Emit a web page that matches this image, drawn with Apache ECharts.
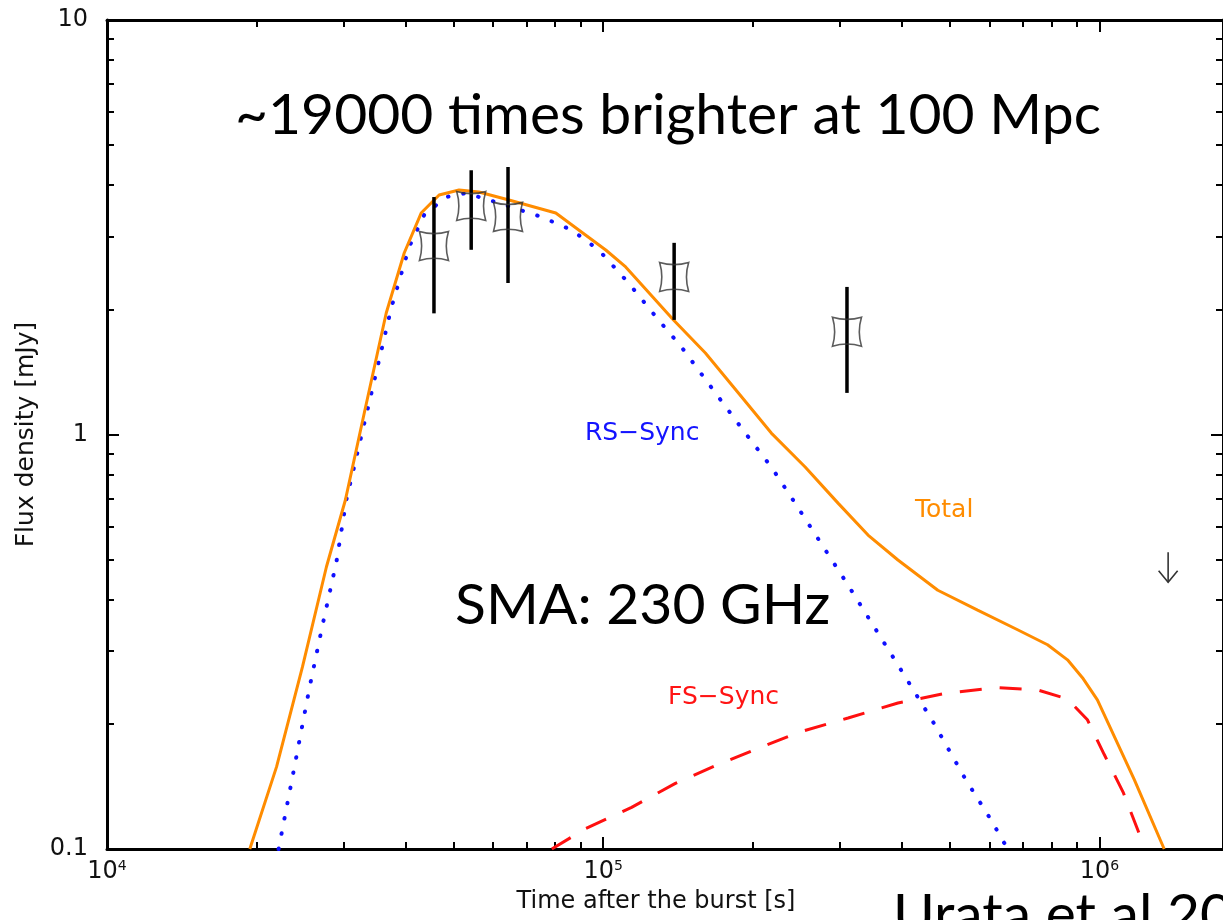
<!DOCTYPE html>
<html><head><meta charset="utf-8">
<script src="https://cdn.jsdelivr.net/npm/echarts@6/dist/echarts.min.js"></script>
<style>html,body{margin:0;padding:0;background:#fff}#chart{width:1223px;height:920px}</style>
</head><body><div id="chart"></div>
<script>
// ---- data ----
const totalTime = [1.94e4, 2.197e4, 2.477e4, 2.768e4, 3.023e4, 3.300e4, 3.654e4, 3.972e4, 4.297e4, 4.670e4, 5.123e4, 5.618e4, 6.458e4, 8.026e4, 1.012e5, 1.110e5, 1.386e5, 1.607e5, 1.873e5, 2.182e5, 2.553e5, 2.974e5, 3.418e5, 3.927e5, 4.725e5, 5.684e5, 6.842e5, 7.863e5, 8.626e5, 9.245e5, 9.909e5, 1.176e6, 1.351e6];
const totalFlux = [0.1, 0.158, 0.275, 0.479, 0.695, 1.127, 1.964, 2.741, 3.422, 3.783, 3.890, 3.846, 3.679, 3.422, 2.787, 2.536, 1.889, 1.573, 1.259, 1.008, 0.835, 0.683, 0.572, 0.498, 0.421, 0.377, 0.338, 0.311, 0.286, 0.259, 0.229, 0.147, 0.1];

const rsTime = [2.217e4, 2.387e4, 2.559e4, 2.719e4, 2.900e4, 3.036e4, 3.378e4, 3.740e4, 4.064e4, 4.357e4, 4.825e4, 5.291e4, 6.166e4, 7.522e4, 8.645e4, 9.795e4, 1.125e5, 1.293e5, 1.438e5, 1.707e5, 1.934e5, 2.182e5, 2.437e5, 3.116e5, 3.927e5, 4.617e5, 5.379e5, 6.037e5, 6.535e5];
const rsFlux = [0.1, 0.158, 0.245, 0.347, 0.493, 0.695, 1.198, 2.020, 2.835, 3.385, 3.741, 3.824, 3.618, 3.347, 3.113, 2.787, 2.320, 1.889, 1.626, 1.232, 1.008, 0.835, 0.683, 0.433, 0.278, 0.203, 0.147, 0.118, 0.1];

const fsTime = [7.879e4, 9.22e4, 1.141e5, 1.398e5, 1.707e5, 2.054e5, 2.472e5, 3.116e5, 3.927e5, 4.948e5, 6.237e5, 7.504e5, 8.626e5, 9.461e5, 1.023e6, 1.117e6, 1.237e6];
const fsFlux = [0.1, 0.112, 0.126, 0.144, 0.160, 0.175, 0.191, 0.207, 0.225, 0.238, 0.245, 0.242, 0.230, 0.205, 0.169, 0.137, 0.1];

const obsTime = [4.56e4, 5.42e4, 6.43e4, 1.39e5, 3.10e5];
const obsFlux = [2.85, 3.56, 3.35, 2.40, 1.77];
const obsLow  = [1.96, 2.79, 2.32, 1.89, 1.26];
const obsHigh = [3.74, 4.34, 4.42, 2.90, 2.27];

const limitTime = [1.376e6];
const limitFlux = [0.52];
const limitArrowEnd = [0.44];

const xMin = 1e4, xMax = 1.775e6, yMin = 0.1, yMax = 10;
const xMajorTicks = [1e4, 1e5, 1e6];
const xMinorTicks = [2e4,3e4,4e4,5e4,6e4,7e4,8e4,9e4,2e5,3e5,4e5,5e5,6e5,7e5,8e5,9e5];
const xTickExponents = ['4', '5', '6'];
const yMajorTicks = [0.1, 1, 10];
const yMinorTicks = [0.2,0.3,0.4,0.5,0.6,0.7,0.8,0.9,2,3,4,5,6,7,8,9];
const yTickLabels = ['0.1', '1', '10'];

const zip = (a, b) => a.map((v, i) => [v, b[i]]);
const FONT = '"DejaVu Sans", sans-serif';
const AX = '#000';

function xAx(gridIndex, position, major, extra) {
  return Object.assign({
    type: 'log', logBase: 10, gridIndex, position, min: xMin, max: xMax,
    axisLine: { show: major, onZero: false, lineStyle: { color: AX, width: 3 } },
    axisTick: { show: true, inside: true, length: major ? 12 : 7, lineStyle: { color: AX, width: 2 },
                customValues: major ? xMajorTicks : xMinorTicks },
    axisLabel: { show: false },
    splitLine: { show: false }, minorTick: { show: false }
  }, extra || {});
}
function yAx(gridIndex, position, major, extra) {
  return Object.assign({
    type: 'log', logBase: 10, gridIndex, position, min: yMin, max: yMax,
    axisLine: { show: major, onZero: false, lineStyle: { color: AX, width: 3 } },
    axisTick: { show: true, inside: true, length: major ? 12 : 7, lineStyle: { color: AX, width: 2 },
                customValues: major ? yMajorTicks : yMinorTicks },
    axisLabel: { show: false },
    splitLine: { show: false }, minorTick: { show: false }
  }, extra || {});
}

const chart = echarts.init(document.getElementById('chart'), null, { renderer: 'canvas' });
const gridBox = { left: 107, top: 20, width: 1119, height: 829 };

const option = {
  animation: false,
  backgroundColor: '#fff',
  grid: [Object.assign({}, gridBox), Object.assign({}, gridBox)],
  xAxis: [
    xAx(0, 'bottom', true, {
      name: 'Time after the burst [s]', nameLocation: 'middle', nameGap: 41,
      nameTextStyle: { fontFamily: FONT, fontSize: 24, color: '#111', padding: [0, 18, 0, 0] },
      axisLabel: {
        show: true, margin: 10, customValues: xMajorTicks,
        formatter: (v) => {
          const i = xMajorTicks.findIndex(t => Math.abs(Math.log10(t) - Math.log10(v)) < 1e-6);
          return '{b|10}{s|' + (i >= 0 ? xTickExponents[i] : '') + '}';
        },
        rich: {
          b: { fontFamily: FONT, fontSize: 24, color: '#111', lineHeight: 26 },
          s: { fontFamily: FONT, fontSize: 14, color: '#111', verticalAlign: 'top', lineHeight: 14 }
        }
      }
    }),
    xAx(0, 'top', true),
    xAx(1, 'bottom', false),
    xAx(1, 'top', false)
  ],
  yAxis: [
    yAx(0, 'left', true, {
      name: 'Flux density [mJy]', nameLocation: 'middle', nameGap: 60,
      nameTextStyle: { fontFamily: FONT, fontSize: 25, color: '#111' },
      axisLabel: {
        show: true, margin: 19, customValues: yMajorTicks,
        fontFamily: FONT, fontSize: 24, color: '#111',
        formatter: (v) => {
          const i = yMajorTicks.findIndex(t => Math.abs(Math.log10(t) - Math.log10(v)) < 1e-6);
          return i >= 0 ? yTickLabels[i] : '';
        }
      }
    }),
    yAx(0, 'right', true),
    yAx(1, 'left', false),
    yAx(1, 'right', false)
  ],
  series: [
    {
      type: 'line', name: 'Total', xAxisIndex: 0, yAxisIndex: 0,
      data: zip(totalTime, totalFlux), showSymbol: false, symbol: 'none', silent: true, z: 4,
      lineStyle: { color: '#ff8c00', width: 3 }
    },
    {
      type: 'line', name: 'RS-Sync', xAxisIndex: 0, yAxisIndex: 0,
      data: zip(rsTime, rsFlux), showSymbol: false, symbol: 'none', silent: true, z: 3,
      lineStyle: { color: '#1010ff', width: 4, type: [0.5, 15], cap: 'round' }
    },
    {
      type: 'line', name: 'FS-Sync', xAxisIndex: 0, yAxisIndex: 0,
      data: zip(fsTime, fsFlux), showSymbol: false, symbol: 'none', silent: true, z: 3,
      lineStyle: { color: '#ff1010', width: 3, type: [22, 18] }
    },
    {
      type: 'custom', name: 'error', xAxisIndex: 0, yAxisIndex: 0, silent: true, z: 5,
      data: obsTime.map((t, i) => [t, obsLow[i], obsHigh[i]]),
      encode: { x: 0, y: [1, 2] },
      renderItem: (params, api) => {
        const p1 = api.coord([api.value(0), api.value(1)]);
        const p2 = api.coord([api.value(0), api.value(2)]);
        return { type: 'line', shape: { x1: p1[0], y1: p1[1], x2: p2[0], y2: p2[1] },
                 style: { stroke: '#000', lineWidth: 3.5 } };
      }
    },
    {
      type: 'scatter', name: 'SMA', xAxisIndex: 0, yAxisIndex: 0, silent: true, z: 6,
      data: zip(obsTime, obsFlux),
      symbol: 'path://M0,0 Q10,3 20,0 Q17,10 20,20 Q10,17 0,20 Q3,10 0,0 Z',
      symbolSize: 29,
      itemStyle: { color: 'rgba(0,0,0,0)', borderColor: '#333', borderWidth: 1.6 }
    },
    {
      type: 'custom', name: 'limit', xAxisIndex: 0, yAxisIndex: 0, silent: true, z: 5,
      data: limitTime.map((t, i) => [t, limitFlux[i], limitArrowEnd[i]]),
      encode: { x: 0, y: [1, 2] },
      renderItem: (params, api) => {
        const a = api.coord([api.value(0), api.value(1)]);
        const b = api.coord([api.value(0), api.value(2)]);
        const st = { stroke: '#333', lineWidth: 1.6, fill: null };
        return { type: 'group', children: [
          { type: 'line', shape: { x1: a[0], y1: a[1], x2: b[0], y2: b[1] }, style: st },
          { type: 'polyline', shape: { points: [[b[0] - 9.5, b[1] - 11.5], [b[0], b[1]], [b[0] + 9.5, b[1] - 11.5]] }, style: st }
        ] };
      }
    }
  ],
  graphic: [
    { type: 'text', x: 585, y: 433, silent: true,
      style: { text: 'RS\u2212Sync', font: '25px ' + FONT, fill: '#1414ff', align: 'left', verticalAlign: 'middle', textAlign: 'left', textVerticalAlign: 'middle' } },
    { type: 'text', x: 915, y: 510, silent: true,
      style: { text: 'Total', font: '25px ' + FONT, fill: '#ff8c00', align: 'left', verticalAlign: 'middle', textAlign: 'left', textVerticalAlign: 'middle' } },
    { type: 'text', x: 668, y: 697, silent: true,
      style: { text: 'FS\u2212Sync', font: '25px ' + FONT, fill: '#ff1414', align: 'left', verticalAlign: 'middle', textAlign: 'left', textVerticalAlign: 'middle' } },
    { type: 'text', x: 235, y: 116, silent: true, z: 100,
      style: { text: '~19000 times brighter at 100 Mpc', font: '57px Lato', fill: '#000', align: 'left', verticalAlign: 'middle', textAlign: 'left', textVerticalAlign: 'middle' } },
    { type: 'text', x: 455, y: 606, silent: true, z: 100,
      style: { text: 'SMA: 230 GHz', font: '57px Lato', fill: '#000', align: 'left', verticalAlign: 'middle', textAlign: 'left', textVerticalAlign: 'middle' } },
    { type: 'text', x: 893, y: 916, silent: true, z: 100,
      style: { text: 'Urata et al 2014', font: '57px Lato', fill: '#000', align: 'left', verticalAlign: 'middle', textAlign: 'left', textVerticalAlign: 'middle' } }
  ]
};
chart.setOption(option);
</script>
</body></html>
